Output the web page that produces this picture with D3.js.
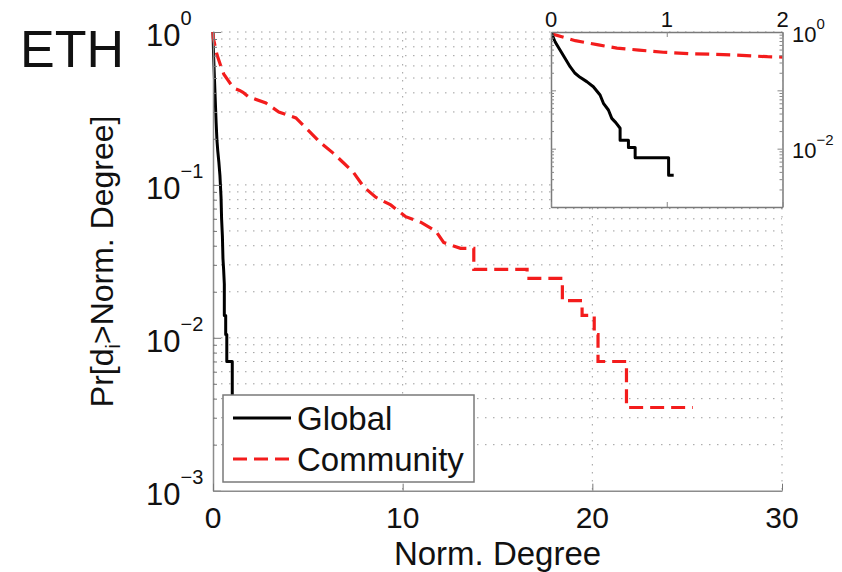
<!DOCTYPE html>
<html>
<head>
<meta charset="utf-8">
<script src="https://cdn.jsdelivr.net/npm/d3@7"></script>
<style>
  body { margin: 0; background: #fff; }
  svg { display: block; }
  text { font-family: "Liberation Sans", Arial, Helvetica, sans-serif; fill: #111; }
</style>
</head>
<body>
<svg id="chart" width="842" height="572"></svg>
<script>
// Complementary cumulative degree distributions (ETH network), vertices of the step curves
const globalDegree = [0, 0.035, 0.078, 0.121, 0.165, 0.208, 0.251, 0.309, 0.366, 0.424, 0.453, 0.496, 0.525, 0.56, 0.597, 0.597, 0.669, 0.669, 0.727, 0.727, 1.016, 1.016, 1.06];
const globalCcdf   = [1, 0.68, 0.49, 0.354, 0.254, 0.196, 0.167, 0.141, 0.115, 0.083, 0.060, 0.046, 0.033, 0.028, 0.0224, 0.014, 0.014, 0.0105, 0.0105, 0.007, 0.007, 0.0035, 0.0035];

const communityDegree = [0, 0.02, 0.21, 0.41, 0.57, 0.76, 0.97, 1.2, 1.4, 1.58, 1.87, 2.79, 3.47, 4.37, 5.0, 5.68, 6.32, 6.89, 7.42, 7.95, 8.58, 9.37, 10.16, 10.95, 11.74, 12.16, 13.05, 13.75, 13.75, 16.56, 16.56, 18.42, 18.42, 19.46, 19.46, 20.1, 20.1, 20.3, 20.3, 21.8, 21.8, 25.3];
const communityCcdf   = [1, 0.91, 0.71, 0.60, 0.53, 0.49, 0.45, 0.425, 0.415, 0.403, 0.377, 0.343, 0.300, 0.274, 0.229, 0.188, 0.162, 0.139, 0.120, 0.097, 0.083, 0.074, 0.062, 0.057, 0.050, 0.042, 0.0385, 0.0385, 0.028, 0.028, 0.0245, 0.0245, 0.0175, 0.0175, 0.014, 0.014, 0.0105, 0.0105, 0.007, 0.007, 0.0035, 0.0035];

const seriesNames = ["Global", "Community"];
const mainXTicks = [0, 10, 20, 30];
const mainYExponents = [0, -1, -2, -3];
const insetXTicks = [0, 1, 2];
const insetYExponents = [0, -2];

const svg = d3.select("#chart");
const RED = "#f31c1c";
const AXIS_GREY = "#8c8c8c";
const GRID_GREY = "#9d9d9d";

const main = { left: 213, right: 782, top: 32, bottom: 490.7 };
const x = d3.scaleLinear().domain([0, 30]).range([main.left, main.right]);
const y = d3.scaleLog().domain([1e-3, 1]).range([main.bottom, main.top]);

const inset = { left: 551, right: 782.5, top: 32, bottom: 207 };
const xi = d3.scaleLinear().domain([0, 2]).range([inset.left, inset.right]);
const yi = d3.scaleLog().domain([1e-3, 1]).range([inset.bottom, inset.top]);

// all 1..9 x 10^e positions between 10^lo and 10^hi
function logTicks(lo, hi) {
  const t = [];
  for (let e = lo; e < hi; e++) for (let m = 1; m < 10; m++) t.push(+(m * Math.pow(10, e)).toPrecision(6));
  t.push(Math.pow(10, hi));
  return t;
}
const isMajor = d => Math.abs(Math.log10(d) - Math.round(Math.log10(d))) < 1e-9;

const globalPts = d3.zip(globalDegree, globalCcdf);
const communityPts = d3.zip(communityDegree, communityCcdf);

// ---------- main panel ----------
const grid = svg.append("g").attr("stroke", GRID_GREY).attr("stroke-width", 1).attr("stroke-dasharray", "1.5,6.5");
grid.selectAll("line.h").data(logTicks(-3, 0).filter(v => v > 1.0001e-3)).join("line")
  .attr("class", "h")
  .attr("x1", main.left).attr("x2", main.right)
  .attr("y1", d => y(d)).attr("y2", d => y(d));
grid.selectAll("line.v").data(mainXTicks.filter(v => v > 0)).join("line")
  .attr("class", "v")
  .attr("x1", d => x(d)).attr("x2", d => x(d))
  .attr("y1", main.top).attr("y2", main.bottom);

svg.append("defs").append("clipPath").attr("id", "clipMain")
  .append("rect").attr("x", main.left - 3).attr("y", main.top - 3)
  .attr("width", main.right - main.left + 6).attr("height", main.bottom - main.top + 3);
svg.select("defs").append("clipPath").attr("id", "clipInset")
  .append("rect").attr("x", inset.left).attr("y", inset.top)
  .attr("width", inset.right - inset.left).attr("height", inset.bottom - inset.top);

const lineMain = d3.line().x(d => x(d[0])).y(d => y(d[1]));
const gMain = svg.append("g").attr("clip-path", "url(#clipMain)");
gMain.append("path").datum(globalPts).attr("d", lineMain)
  .attr("fill", "none").attr("stroke", "#000").attr("stroke-width", 3).attr("stroke-linejoin", "round");
gMain.append("path").datum(communityPts).attr("d", lineMain)
  .attr("fill", "none").attr("stroke", RED).attr("stroke-width", 3.2).attr("stroke-dasharray", "14,7");

// axes
const yAxis = svg.append("g").attr("transform", `translate(${main.left},0)`)
  .call(d3.axisLeft(y).tickValues(logTicks(-3, 0)).tickFormat("").tickSizeOuter(0).tickSizeInner(-4));
yAxis.selectAll(".tick line").attr("x2", d => isMajor(d) ? 8 : 4).attr("stroke", "#777");
const xAxis = svg.append("g").attr("transform", `translate(0,${main.bottom})`)
  .call(d3.axisBottom(x).tickValues(mainXTicks).tickFormat("").tickSizeOuter(0).tickSizeInner(-7));
xAxis.selectAll(".tick line").attr("stroke", "#777");
[yAxis, xAxis].forEach(g => g.select(".domain").attr("stroke", AXIS_GREY).attr("stroke-width", 1.5));

// y tick labels 10^e
mainYExponents.forEach(e => {
  const t = svg.append("text").attr("x", 146).attr("y", y(Math.pow(10, e)) + 14).attr("font-size", 31);
  t.append("tspan").text("10");
  t.append("tspan").attr("font-size", 20).attr("dy", -21).text(e === 0 ? "0" : "\u2212" + Math.abs(e));
});
// x tick labels
svg.selectAll("text.xt").data(mainXTicks).join("text").attr("class", "xt")
  .attr("x", d => x(d)).attr("y", 528).attr("text-anchor", "middle").attr("font-size", 30).text(d => d);

// axis titles
svg.append("text").attr("x", (main.left + main.right) / 2).attr("y", 565)
  .attr("text-anchor", "middle").attr("font-size", 33).text("Norm. Degree");
const yt = svg.append("text").attr("transform", `translate(113,${(main.top + main.bottom) / 2}) rotate(-90)`)
  .attr("text-anchor", "middle").attr("font-size", 32);
yt.append("tspan").text("Pr[d");
yt.append("tspan").attr("font-size", 20).attr("dy", 7).text("i");
yt.append("tspan").attr("dy", -7).text(">Norm. Degree]");

svg.append("text").attr("x", 20).attr("y", 67).attr("font-size", 52).text("ETH");

// ---------- inset ----------
svg.append("rect").attr("x", inset.left).attr("y", inset.top)
  .attr("width", inset.right - inset.left).attr("height", inset.bottom - inset.top).attr("fill", "#fff");
const lineInset = d3.line().x(d => xi(d[0])).y(d => yi(d[1]));
const gInset = svg.append("g").attr("clip-path", "url(#clipInset)");
gInset.append("path").datum(communityPts).attr("d", lineInset)
  .attr("fill", "none").attr("stroke", RED).attr("stroke-width", 3.2).attr("stroke-dasharray", "14,7");
gInset.append("path").datum(globalPts).attr("d", lineInset)
  .attr("fill", "none").attr("stroke", "#000").attr("stroke-width", 3).attr("stroke-linejoin", "round");

const iLeft = svg.append("g").attr("transform", `translate(${inset.left},0)`)
  .call(d3.axisLeft(yi).tickValues(logTicks(-3, 0)).tickFormat("").tickSizeOuter(0));
iLeft.selectAll(".tick line").attr("x2", d => isMajor(d) ? 5 : 3).attr("stroke", "#888");
const iRight = svg.append("g").attr("transform", `translate(${inset.right},0)`)
  .call(d3.axisRight(yi).tickValues(logTicks(-3, 0)).tickFormat("").tickSizeOuter(0));
iRight.selectAll(".tick line").attr("x2", d => isMajor(d) ? -5 : -3).attr("stroke", "#888");
const iTop = svg.append("g").attr("transform", `translate(0,${inset.top})`)
  .call(d3.axisTop(xi).tickValues(insetXTicks).tickFormat("").tickSizeOuter(0).tickSizeInner(-5));
const iBottom = svg.append("g").attr("transform", `translate(0,${inset.bottom})`)
  .call(d3.axisBottom(xi).tickValues(insetXTicks).tickFormat("").tickSizeOuter(0).tickSizeInner(-5));
[iLeft, iRight, iTop, iBottom].forEach(g => {
  g.select(".domain").attr("stroke", "#7a7a7a").attr("stroke-width", 1.5);
});
[iTop, iBottom].forEach(g => g.selectAll(".tick line").attr("stroke", "#888"));

svg.selectAll("text.ixt").data(insetXTicks).join("text").attr("class", "ixt")
  .attr("x", d => xi(d)).attr("y", 27).attr("text-anchor", "middle").attr("font-size", 22).text(d => d);
insetYExponents.forEach(e => {
  const t = svg.append("text").attr("x", 792).attr("y", yi(Math.pow(10, e)) + 9.5).attr("font-size", 22);
  t.append("tspan").text("10");
  t.append("tspan").attr("font-size", 15).attr("dy", -13).text(e === 0 ? "0" : "\u2212" + Math.abs(e));
});

// ---------- legend ----------
const lg = svg.append("g");
lg.append("rect").attr("x", 223).attr("y", 395).attr("width", 251).attr("height", 87)
  .attr("fill", "#fff").attr("stroke", "#7a7a7a").attr("stroke-width", 1.5);
const legendRows = [
  { name: seriesNames[0], color: "#000", dash: null, cy: 418 },
  { name: seriesNames[1], color: RED, dash: "14,7", cy: 459 }
];
legendRows.forEach(r => {
  lg.append("line").attr("x1", 233).attr("x2", 291).attr("y1", r.cy).attr("y2", r.cy)
    .attr("stroke", r.color).attr("stroke-width", 3.2).attr("stroke-dasharray", r.dash);
  lg.append("text").attr("x", 297).attr("y", r.cy + 12).attr("font-size", 33).text(r.name);
});
</script>
</body>
</html>
